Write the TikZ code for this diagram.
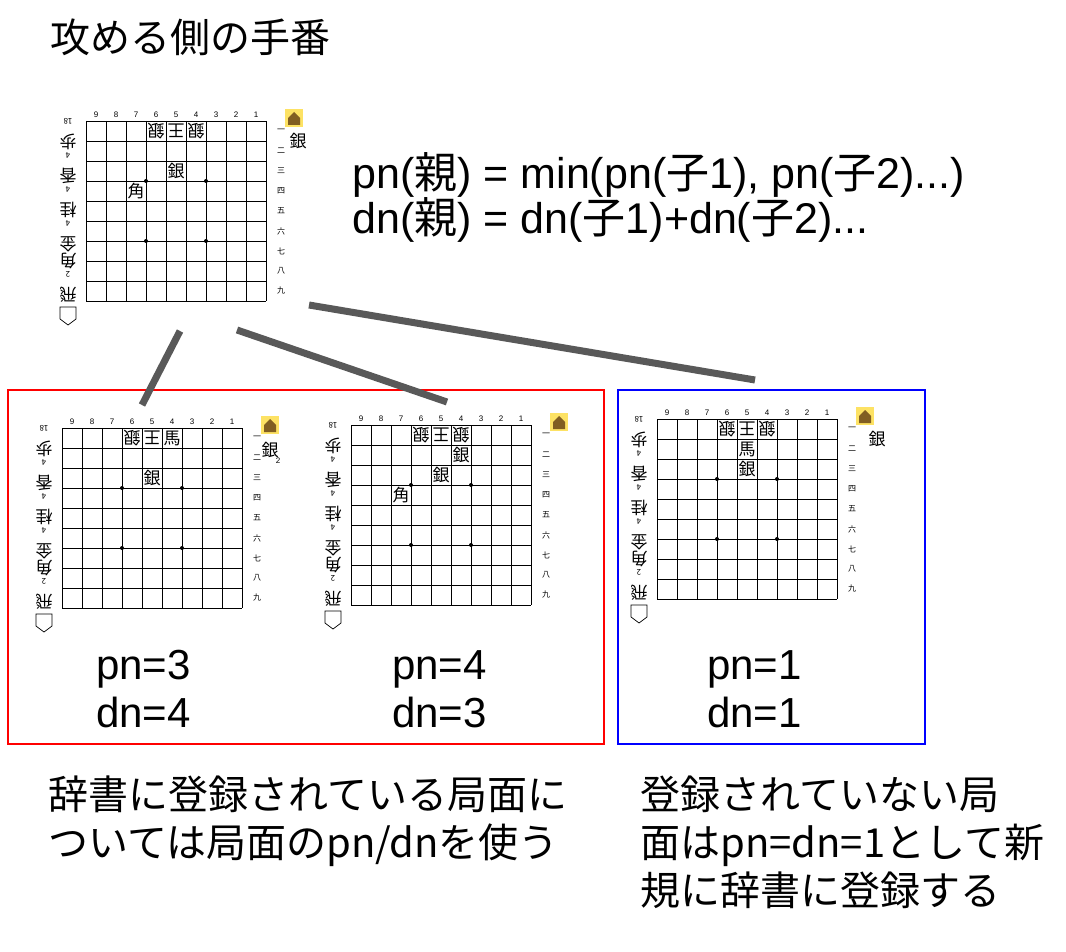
\documentclass[tikz,border=0pt]{standalone}
\usepackage{fontspec}
\setmainfont{Liberation Sans}
\newfontfamily\cjk{Noto Sans CJK JP}
\begin{document}
\begin{tikzpicture}[x=1pt,y=-1pt,
  conn/.style={line width=7pt,draw=black!65},
  big/.style={font=\fontsize{40}{48}\selectfont\cjk,anchor=west,inner sep=0},
  pcs/.style={font=\fontsize{17}{17}\selectfont\cjk,inner sep=0},
  lbl/.style={font=\fontsize{8}{8}\selectfont\cjk,inner sep=0}]
\useasboundingbox (0,0) rectangle (1066,952);
\newcommand\pc[4]{\node[pcs,rotate=#4] at ({(9-#1)*20+10},{(#2-1)*20+10}) {#3};}
\newcommand\sm[1]{{\fontsize{8}{9}\selectfont #1}}
\newcommand\board[3]{%
 \begin{scope}[shift={(#1,#2)}]
  \foreach \i in {0,...,9}{\draw[line width=0.6pt] (\i*20,0) -- (\i*20,180); \draw[line width=0.6pt] (0,\i*20) -- (180,\i*20);}
  \foreach \a/\b in {60/60,120/60,60/120,120/120}{\fill (\a,\b) circle (2);}
  \foreach \n [count=\k] in {9,8,7,6,5,4,3,2,1}{\node[font=\fontsize{8}{8}\selectfont,inner sep=0] at (\k*20-10,-6) {\n};}
  \foreach \n [count=\k] in {一,二,三,四,五,六,七,八,九}{\node[lbl] at (195,\k*20-10) {\n};}
  \fill[yellow!70!orange!60] (199,-12) rectangle (217,6);
  \fill[brown!60!black!90!yellow] (202,4) -- (202,-3) -- (208,-9) -- (214,-3) -- (214,4) -- cycle;
  \node[rotate=180,font=\fontsize{17}{17}\selectfont\cjk,inner sep=0,align=center,anchor=north] at (-18,182) {飛\\\sm{2}\\角\\金\\\sm{4}\\桂\\\sm{4}\\香\\\sm{4}\\歩\\\sm{18}};
  \draw[line width=0.7pt] (-26,186) -- (-10,186) -- (-10,198) -- (-18,204) -- (-26,198) -- cycle;
  #3
 \end{scope}}
\node[big] (title) at (50,37) {攻める側の手番};
\node[font=\fontsize{43}{50}\selectfont,anchor=west,inner sep=0,align=left] (f1) at (352,175) {pn({\cjk 親}) = min(pn({\cjk 子}1), pn({\cjk 子}2)...)};
\node[font=\fontsize{43}{50}\selectfont,anchor=west,inner sep=0,align=left] (f2) at (352,220) {dn({\cjk 親}) = dn({\cjk 子}1)+dn({\cjk 子}2)...};
\board{86}{121}{\pc{6}{1}{銀}{180}\pc{5}{1}{王}{180}\pc{4}{1}{銀}{180}\pc{5}{3}{銀}{0}\pc{7}{4}{角}{0}
  \node[pcs] at (212,20) {銀};}
\board{62}{428}{\pc{6}{1}{銀}{180}\pc{5}{1}{王}{180}\pc{4}{1}{馬}{0}\pc{5}{3}{銀}{0}
  \node[pcs] at (208,22) {銀}; \node[font=\fontsize{8}{8}\selectfont,inner sep=0] at (216,33) {2};}
\board{351}{425}{\pc{6}{1}{銀}{180}\pc{5}{1}{王}{180}\pc{4}{1}{銀}{180}\pc{4}{2}{銀}{0}\pc{5}{3}{銀}{0}\pc{7}{4}{角}{0}}
\board{657}{419}{\pc{6}{1}{銀}{180}\pc{5}{1}{王}{180}\pc{4}{1}{銀}{180}\pc{5}{2}{馬}{0}\pc{5}{3}{銀}{0}
  \node[pcs] at (220,20) {銀};}
\draw[red,line width=1.5pt] (8,390) rectangle (604,744);
\draw[blue,line width=1.5pt] (618,390) rectangle (925,744);
\coordinate (a1) at (180,331); \coordinate (a2) at (142,405);
\coordinate (b1) at (237,330); \coordinate (b2) at (447,402);
\coordinate (c1) at (309,305); \coordinate (c2) at (755,380);
\draw[conn] (a1) -- (a2); \draw[conn] (b1) -- (b2); \draw[conn] (c1) -- (c2);
\foreach \x/\p/\d in {96/3/4,392/4/3,707/1/1}{
 \node[font=\fontsize{42}{48}\selectfont,anchor=north west,inner sep=0,align=left] at (\x,650) {pn=\p\\dn=\d};}
\node[anchor=north west,inner sep=0,align=left,font=\fontsize{40}{48}\selectfont\cjk] (t1) at (48,776) {辞書に登録されている局面に\\ついては局面のpn/dnを使う};
\node[anchor=north west,inner sep=0,align=left,font=\fontsize{40}{48}\selectfont\cjk] (t2) at (640,776) {登録されていない局\\面はpn=dn=1として新\\規に辞書に登録する};
\end{tikzpicture}
\end{document}
